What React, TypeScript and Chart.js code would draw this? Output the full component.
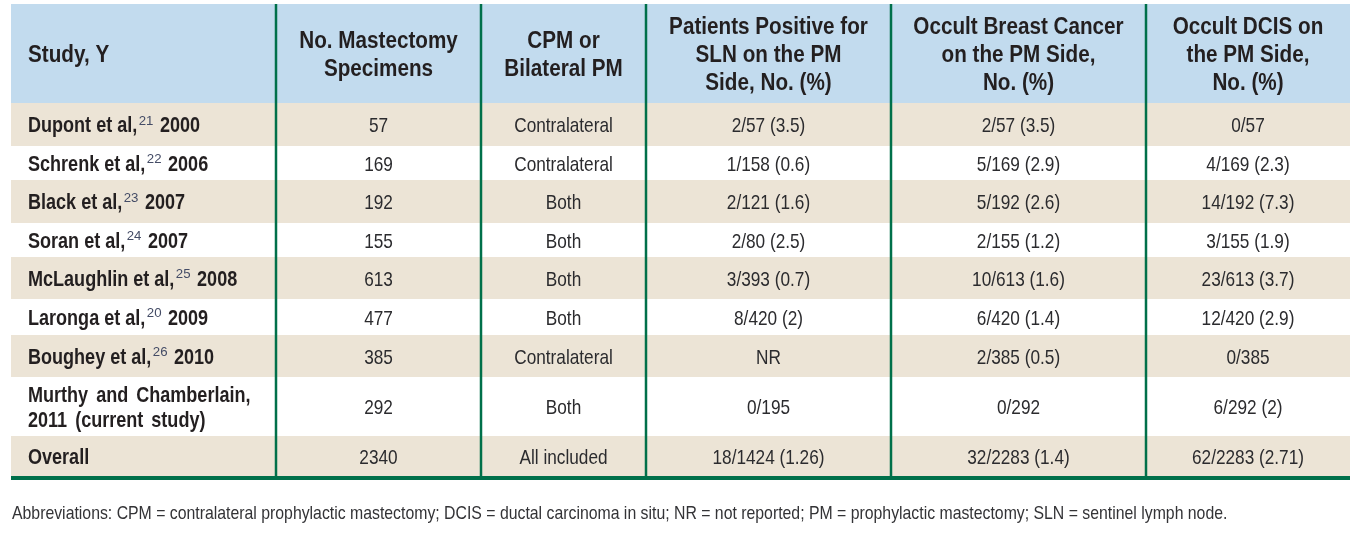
import React, { useEffect, useRef } from "react";
import { Chart, registerables } from "chart.js";

Chart.register(...registerables);

// ---------------- data ----------------
const headers: string[][] = [
  ["Study, Y"],
  ["No. Mastectomy", "Specimens"],
  ["CPM or", "Bilateral PM"],
  ["Patients Positive for", "SLN on the PM", "Side, No. (%)"],
  ["Occult Breast Cancer", "on the PM Side,", "No. (%)"],
  ["Occult DCIS on", "the PM Side,", "No. (%)"],
];

const studyNames: string[][] = [
  ["Dupont et al,"],
  ["Schrenk et al,"],
  ["Black et al,"],
  ["Soran et al,"],
  ["McLaughlin et al,"],
  ["Laronga et al,"],
  ["Boughey et al,"],
  ["Murthy and Chamberlain,", "2011 (current study)"],
  ["Overall"],
];
const studyRefs = ["21", "22", "23", "24", "25", "20", "26", "", ""];
const studyYears = ["2000", "2006", "2007", "2007", "2008", "2009", "2010", "", ""];

const specimens = ["57", "169", "192", "155", "613", "477", "385", "292", "2340"];
const procedures = [
  "Contralateral", "Contralateral", "Both", "Both", "Both", "Both", "Contralateral", "Both", "All included",
];
const slnPositive = [
  "2/57 (3.5)", "1/158 (0.6)", "2/121 (1.6)", "2/80 (2.5)", "3/393 (0.7)", "8/420 (2)", "NR", "0/195", "18/1424 (1.26)",
];
const occultCancer = [
  "2/57 (3.5)", "5/169 (2.9)", "5/192 (2.6)", "2/155 (1.2)", "10/613 (1.6)", "6/420 (1.4)", "2/385 (0.5)", "0/292", "32/2283 (1.4)",
];
const occultDcis = [
  "0/57", "4/169 (2.3)", "14/192 (7.3)", "3/155 (1.9)", "23/613 (3.7)", "12/420 (2.9)", "0/385", "6/292 (2)", "62/2283 (2.71)",
];

const footnote =
  "Abbreviations: CPM = contralateral prophylactic mastectomy; DCIS = ductal carcinoma in situ; NR = not reported; PM = prophylactic mastectomy; SLN = sentinel lymph node.";

// ---------------- layout / style ----------------
const COL_W = [265, 205, 165, 245, 255, 204];
const ROW_H = [99, 43, 34, 43, 34, 42, 36, 42, 59, 40];
const RULE_H = 4;
const FIRST_PAD = 17;

const FONT = "'Liberation Sans', Arial, sans-serif";
const HEAD_SIZE = 23.5;
const HEAD_SX = 0.88;
const HEAD_LH = 28;
const FIRST_SIZE = 22;
const FIRST_SX = 0.82;
const FIRST_LH = 25;
const MULTI_WORD_GAP = 3;
const BODY_SIZE = 21;
const BODY_SX = 0.82;
const SUP_SIZE = 13.5;
const SUP_SX = 0.98;
const SUP_GAP_BEFORE = 1.5;
const SUP_GAP_AFTER = 1.5;
const FOOT_SIZE = 18.5;
const FOOT_SX = 0.855;
const FOOT_GAP = 32;
const CAP = 0.716;

const BLUE = "#c2dbee";
const BEIGE = "#ece4d6";
const WHITE = "#ffffff";
const GREEN = "#00704a";
const INK = "#231f20";
const BODY_INK = "#2b2b2e";
const SUP_INK = "#444c66";
const FOOT_INK = "#333336";

const colEdges = COL_W.reduce((a, w) => [...a, a[a.length - 1] + w], [0]);
const rowEdges = ROW_H.reduce((a, h) => [...a, a[a.length - 1] + h], [0]);
const TOTAL_W = colEdges[colEdges.length - 1];
const TOTAL_H = rowEdges[rowEdges.length - 1] + RULE_H;

const bodyColumns: (string[] | null)[] = [null, specimens, procedures, slnPositive, occultCancer, occultDcis];

// draws condensed text (horizontal scale sx); returns drawn width
function drawText(
  ctx: CanvasRenderingContext2D,
  text: string,
  x: number,
  y: number,
  align: "left" | "center",
  font: string,
  sx: number,
  color: string,
  wordGap = 0
): number {
  ctx.save();
  ctx.font = font;
  ctx.fillStyle = color;
  ctx.textAlign = "left";
  ctx.textBaseline = "alphabetic";
  if (wordGap) (ctx as any).wordSpacing = `${wordGap / sx}px`;
  const w = ctx.measureText(text).width * sx;
  const left = align === "center" ? x - w / 2 : x;
  ctx.translate(left, y);
  ctx.scale(sx, 1);
  ctx.fillText(text, 0, 0);
  ctx.restore();
  return w;
}

const tablePlugin = {
  id: "tableCells",
  beforeDatasetsDraw(chart: any) {
    const { ctx } = chart;
    const xs = chart.scales.x;
    const ys = chart.scales.y;
    const x0 = xs.getPixelForValue(0);
    const x1 = xs.getPixelForValue(TOTAL_W);
    ctx.save();
    for (let r = 0; r < ROW_H.length; r++) {
      const yTop = ys.getPixelForValue(rowEdges[r]);
      const yBot = ys.getPixelForValue(rowEdges[r + 1]);
      ctx.fillStyle = r === 0 ? BLUE : (r - 1) % 2 === 0 ? BEIGE : WHITE;
      ctx.fillRect(x0, yTop, x1 - x0, yBot - yTop);
    }
    const ruleTop = ys.getPixelForValue(rowEdges[rowEdges.length - 1]);
    const ruleBot = ys.getPixelForValue(TOTAL_H);
    ctx.fillStyle = GREEN;
    ctx.fillRect(x0, ruleTop, x1 - x0, ruleBot - ruleTop);
    ctx.strokeStyle = GREEN;
    ctx.lineWidth = 2.5;
    for (let c = 1; c < COL_W.length; c++) {
      const xp = xs.getPixelForValue(colEdges[c]);
      ctx.beginPath();
      ctx.moveTo(xp, ys.getPixelForValue(0));
      ctx.lineTo(xp, ruleTop);
      ctx.stroke();
    }
    ctx.restore();
  },
  afterDatasetsDraw(chart: any) {
    const { ctx } = chart;
    for (let c = 0; c < COL_W.length; c++) {
      const meta = chart.getDatasetMeta(c);
      meta.data.forEach((pt: any, r: number) => {
        const cx = pt.x;
        const cy = pt.y;
        const align = c === 0 ? "left" : "center";
        if (r === 0) {
          const lines = headers[c];
          lines.forEach((ln, i) => {
            const ly = cy + (i - (lines.length - 1) / 2) * HEAD_LH + (CAP * HEAD_SIZE) / 2;
            drawText(ctx, ln, cx, ly, align, `bold ${HEAD_SIZE}px ${FONT}`, HEAD_SX, INK);
          });
          return;
        }
        const row = r - 1;
        if (c === 0) {
          const lines = studyNames[row];
          const gap = lines.length > 1 ? MULTI_WORD_GAP : 0;
          lines.forEach((ln, i) => {
            const ly = cy + (i - (lines.length - 1) / 2) * FIRST_LH + (CAP * FIRST_SIZE) / 2;
            let xx = cx + drawText(ctx, ln, cx, ly, "left", `bold ${FIRST_SIZE}px ${FONT}`, FIRST_SX, INK, gap);
            if (i === lines.length - 1 && studyRefs[row]) {
              xx += SUP_GAP_BEFORE;
              const supY = ly - CAP * FIRST_SIZE + CAP * SUP_SIZE - 1.5;
              xx += drawText(ctx, studyRefs[row], xx, supY, "left", `${SUP_SIZE}px ${FONT}`, SUP_SX, SUP_INK);
              xx += SUP_GAP_AFTER;
              drawText(ctx, " " + studyYears[row], xx, ly, "left", `bold ${FIRST_SIZE}px ${FONT}`, FIRST_SX, INK);
            }
          });
          return;
        }
        const col = bodyColumns[c] as string[];
        drawText(ctx, col[row], cx, cy + (CAP * BODY_SIZE) / 2, "center", `${BODY_SIZE}px ${FONT}`, BODY_SX, BODY_INK);
      });
    }
    // footnote below the table
    const area = chart.chartArea;
    drawText(
      ctx,
      footnote,
      area.left + 1,
      area.bottom + FOOT_GAP + (CAP * FOOT_SIZE) / 2,
      "left",
      `${FOOT_SIZE}px ${FONT}`,
      FOOT_SX,
      FOOT_INK
    );
  },
};

export default function App() {
  const canvasRef = useRef<HTMLCanvasElement | null>(null);

  useEffect(() => {
    const canvas = canvasRef.current;
    if (!canvas) return;
    const datasets = COL_W.map((_, c) => ({
      label: headers[c].join(" "),
      data: ROW_H.map((_, r) => ({
        x: c === 0 ? colEdges[0] + FIRST_PAD : (colEdges[c] + colEdges[c + 1]) / 2,
        y: (rowEdges[r] + rowEdges[r + 1]) / 2,
      })),
      pointRadius: 0,
      pointHoverRadius: 0,
      showLine: false,
    }));
    const chart = new Chart(canvas, {
      type: "scatter",
      data: { datasets },
      options: {
        animation: false,
        responsive: false,
        events: [],
        layout: { padding: { left: 11, right: 6, top: 4, bottom: 63 } },
        scales: {
          x: { type: "linear", min: 0, max: TOTAL_W, display: false },
          y: { type: "linear", min: 0, max: TOTAL_H, reverse: true, display: false },
        },
        plugins: {
          legend: { display: false },
          tooltip: { enabled: false },
          title: { display: false },
        },
      },
      plugins: [tablePlugin],
    });
    return () => chart.destroy();
  }, []);

  return (
    <div style={{ position: "absolute", left: 0, top: 0, width: 1356, height: 543, background: "#fff" }}>
      <canvas ref={canvasRef} width={1356} height={543} style={{ display: "block" }} />
    </div>
  );
}
